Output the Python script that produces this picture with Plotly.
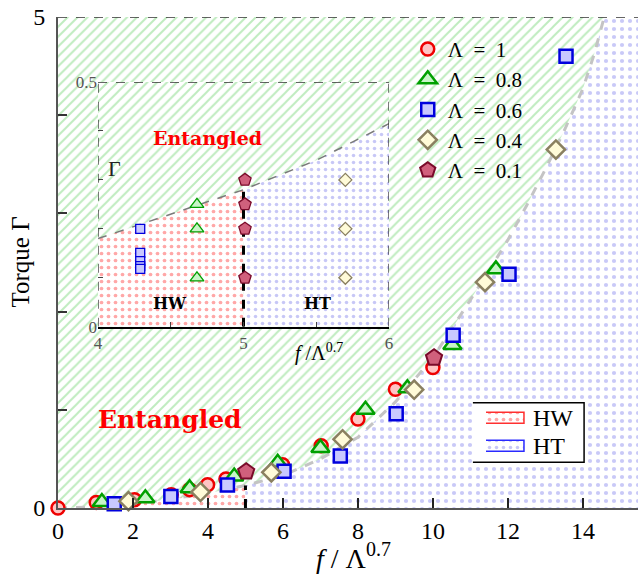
import plotly.graph_objects as go

# ---------------- data ----------------
lam_labels = ["Λ\u2002=\u20021", "Λ\u2002=\u20020.8", "Λ\u2002=\u20020.6",
              "Λ\u2002=\u20020.4", "Λ\u2002=\u20020.1"]

lam1_x = [0, 1.02, 2.04, 3.02, 3.51, 3.99, 4.48, 5.99, 7.02, 8.0, 9.0, 10.0]
lam1_y = [0, 0.057, 0.085, 0.135, 0.187, 0.237, 0.295, 0.44, 0.634, 0.906, 1.21, 1.43]
lam08_x = [1.17, 2.33, 3.51, 4.7, 5.86, 7.0, 8.2, 9.32, 10.52, 11.68]
lam08_y = [0.06, 0.10, 0.20, 0.32, 0.46, 0.61, 1.0, 1.22, 1.66, 2.43]
lam06_x = [1.5, 3.01, 4.52, 6.03, 7.53, 9.02, 10.54, 12.03, 13.55]
lam06_y = [0.044, 0.118, 0.235, 0.373, 0.53, 0.96, 1.76, 2.38, 4.60]
lam04_x = [1.88, 3.8, 5.69, 7.59, 9.5, 11.39, 13.28]
lam04_y = [0.07, 0.163, 0.363, 0.70, 1.205, 2.30, 3.65]
lam01_x = [5.02, 10.03]
lam01_y = [0.37, 1.53]

# phase boundary (main)
bnd_x = [0, 1, 2, 3, 4, 5, 6, 7, 8, 9, 10, 10.5, 11, 11.5, 12, 12.5, 13, 13.5, 14, 14.3, 14.57]
bnd_y = [0, 0.01, 0.04, 0.09, 0.15, 0.23, 0.33, 0.50, 0.72, 1.08, 1.53, 1.82, 2.12, 2.42,
         2.73, 3.08, 3.45, 3.84, 4.27, 4.62, 5.0]
hw_ht_split = 5

# inset data
ins_lam08_x = [4.68, 4.68, 4.68]
ins_lam08_y = [0.25, 0.20, 0.10]
ins_lam06_x = [4.29, 4.29, 4.29, 4.29, 4.29]
ins_lam06_y = [0.20, 0.151, 0.134, 0.124, 0.118]
ins_lam04_x = [5.70, 5.70, 5.70]
ins_lam04_y = [0.30, 0.20, 0.10]
ins_lam01_x = [5.01, 5.01, 5.01, 5.01]
ins_lam01_y = [0.30, 0.25, 0.20, 0.10]
ins_bnd_x = [4, 4.5, 5, 5.5, 6]
ins_bnd_y = [0.18, 0.23, 0.28, 0.34, 0.415]

region_labels = ["HW", "HT"]

main_x_tickvals = [0, 2, 4, 6, 8, 10, 12, 14]
main_y_tickvals = [0, 1, 2, 3, 4, 5]
main_y_ticktext = ["0", "", "", "", "", "5"]
ins_x_tickvals = [4, 4.5, 5, 5.5, 6]
ins_x_ticktext = ["4", "", "5", "", "6"]
ins_y_tickvals = [0, 0.1, 0.2, 0.3, 0.4, 0.5]
ins_y_ticktext = ["0", "", "", "", "", "0.5"]

# ---------------- styles ----------------
XMAX = 15.47
YMAX = 5
SERIF = "Liberation Serif"
green_pat = dict(shape="/", fgcolor="#7fd87f", bgcolor="white", size=7, solidity=0.28)
red_pat = dict(shape=".", fgcolor="#ff5050", bgcolor="white", size=7, solidity=0.22)
blue_pat = dict(shape=".", fgcolor="#9090ee", bgcolor="white", size=7, solidity=0.2)
blue_pat_main = dict(shape=".", fgcolor="#9494f0", bgcolor="white", size=8, solidity=0.22)

styles = {
    "c": dict(symbol="circle", color="#ffc4c4", line=dict(color="#ee0000", width=2.5)),
    "t": dict(symbol="triangle-up", color="#c8f5c8", line=dict(color="#00a000", width=2.5)),
    "s": dict(symbol="square", color="#c8c8ff", line=dict(color="#0000dd", width=2.5)),
    "d": dict(symbol="diamond", color="#fffbd8", line=dict(color="#8a8060", width=2.5)),
    "p": dict(symbol="pentagon", color="#d0607c", line=dict(color="#7a0a2a", width=2)),
}

fig = go.Figure()


def region(x, y, pat, xa="x", ya="y", line=None):
    fig.add_trace(go.Scatter(x=x, y=y, fill="toself", fillcolor="white", fillpattern=pat,
                             mode="lines" if line else "none", line=line or {},
                             showlegend=False, hoverinfo="skip", xaxis=xa, yaxis=ya))


# ---------------- main regions ----------------
region([0, XMAX, XMAX, 0], [0, 0, YMAX, YMAX], green_pat)
hw_x = [bx for bx in bnd_x if bx <= hw_ht_split]
hw_y = [by for bx, by in zip(bnd_x, bnd_y) if bx <= hw_ht_split]
region(hw_x + [hw_ht_split], hw_y + [0], red_pat)
ht_x = [bx for bx in bnd_x if bx >= hw_ht_split]
ht_y = [by for bx, by in zip(bnd_x, bnd_y) if bx >= hw_ht_split]
region(ht_x + [XMAX, XMAX, hw_ht_split], ht_y + [YMAX, 0, 0], blue_pat_main)

fig.add_trace(go.Scatter(x=bnd_x, y=bnd_y, mode="lines", showlegend=False, hoverinfo="skip",
                         line=dict(color="#c4c4c4", width=3, dash="dash")))
split_y = bnd_y[bnd_x.index(hw_ht_split)]
fig.add_trace(go.Scatter(x=[hw_ht_split, hw_ht_split], y=[0, split_y], mode="lines",
                         showlegend=False, hoverinfo="skip",
                         line=dict(color="black", width=3, dash="dash")))

# ---------------- main markers ----------------
main_series = [(lam1_x, lam1_y, "c", 13), (lam08_x, lam08_y, "t", 16),
               (lam06_x, lam06_y, "s", 13), (lam04_x, lam04_y, "d", 14),
               (lam01_x, lam01_y, "p", 17)]
for (sx, sy, key, sz), lab in zip(main_series, lam_labels):
    st = styles[key]
    fig.add_trace(go.Scatter(x=sx, y=sy, mode="markers", name=lab, cliponaxis=False,
                             marker=dict(symbol=st["symbol"], size=sz, color=st["color"],
                                         line=st["line"])))

# ---------------- inset ----------------
region([4, 6, 6, 4], [0, 0, 0.5, 0.5], green_pat, "x2", "y2")
ihw_x = [bx for bx in ins_bnd_x if bx <= hw_ht_split]
ihw_y = [by for bx, by in zip(ins_bnd_x, ins_bnd_y) if bx <= hw_ht_split]
region([4] + ihw_x + [hw_ht_split], [0] + ihw_y + [0], red_pat, "x2", "y2")
iht_x = [bx for bx in ins_bnd_x if bx >= hw_ht_split]
iht_y = [by for bx, by in zip(ins_bnd_x, ins_bnd_y) if bx >= hw_ht_split]
region(iht_x + [6, hw_ht_split], iht_y + [0, 0], blue_pat, "x2", "y2")
fig.add_trace(go.Scatter(x=ins_bnd_x, y=ins_bnd_y, mode="lines", showlegend=False,
                         hoverinfo="skip", xaxis="x2", yaxis="y2",
                         line=dict(color="#7a7a7a", width=1.5, dash="dash")))
ins_split_y = ins_bnd_y[ins_bnd_x.index(hw_ht_split)]
fig.add_trace(go.Scatter(x=[hw_ht_split, hw_ht_split], y=[0, ins_split_y], mode="lines",
                         showlegend=False, hoverinfo="skip", xaxis="x2", yaxis="y2",
                         line=dict(color="black", width=3, dash="dash")))
ins_series = [(ins_lam06_x, ins_lam06_y, "s", 9), (ins_lam08_x, ins_lam08_y, "t", 12),
              (ins_lam01_x, ins_lam01_y, "p", 13), (ins_lam04_x, ins_lam04_y, "d", 10)]
for sx, sy, key, sz in ins_series:
    st = styles[key]
    fig.add_trace(go.Scatter(x=sx, y=sy, mode="markers", showlegend=False, xaxis="x2",
                             yaxis="y2", cliponaxis=False,
                             marker=dict(symbol=st["symbol"], size=sz, color=st["color"],
                                         line=dict(color=st["line"]["color"], width=1.3))))

# ---------------- region legend box (own little axes) ----------------
region([0.008, 0.992, 0.992, 0.008], [0.012, 0.012, 0.988, 0.988],
       dict(shape="", bgcolor="white", fgcolor="white"), "x3", "y3",
       line=dict(color="black", width=1.5))
key_rows = [0.743, 0.284]
key_pats = [(red_pat, "#ff3030"), (blue_pat, "#2a2aff")]
for row, (pat, lc) in zip(key_rows, key_pats):
    region([0.124, 0.46, 0.46, 0.124], [row - 0.09, row - 0.09, row + 0.09, row + 0.09],
           pat, "x3", "y3", line=dict(color=lc, width=1.5))

# ---------------- layout ----------------
hidden_axis = dict(range=[0, 1], showgrid=False, zeroline=False, showline=False,
                   showticklabels=False, ticks="", fixedrange=True)
fig.update_layout(
    width=638, height=576,
    margin=dict(l=58, r=0, t=17, b=68),
    paper_bgcolor="white", plot_bgcolor="white",
    font=dict(family=SERIF, color="black"),
    showlegend=True,
    xaxis=dict(domain=[0, 1], range=[0, XMAX], anchor="y", showgrid=False, zeroline=False,
               showline=True, linecolor="#555", linewidth=2, ticks="inside", ticklen=10,
               tickwidth=2, tickcolor="#222", tickvals=main_x_tickvals, automargin=False,
               tickfont=dict(family=SERIF, size=24, color="black")),
    yaxis=dict(domain=[0, 1], range=[0, YMAX], anchor="x", showgrid=False, zeroline=False,
               showline=True, linecolor="#555", linewidth=2, ticks="inside", ticklen=9,
               tickwidth=1.5, tickcolor="#333", tickvals=main_y_tickvals, automargin=False,
               ticktext=main_y_ticktext, ticklabelstandoff=6,
               tickfont=dict(family=SERIF, size=24, color="black")),
    xaxis2=dict(domain=[0.069, 0.5707], range=[4, 6], anchor="y2", showgrid=False,
                zeroline=False, showline=True, linecolor="black", linewidth=1.5,
                ticks="inside", ticklen=5, tickwidth=1, tickcolor="#444", automargin=False,
                tickvals=ins_x_tickvals, ticktext=ins_x_ticktext,
                tickfont=dict(family=SERIF, size=17, color="#555")),
    yaxis2=dict(domain=[0.3692, 0.8676], range=[0, 0.5], anchor="x2", showgrid=False,
                zeroline=False, showline=False, ticks="inside", ticklen=5, tickwidth=1,
                tickcolor="#444", tickvals=ins_y_tickvals, ticktext=ins_y_ticktext,
                automargin=False, tickfont=dict(family=SERIF, size=17, color="#555")),
    xaxis3=dict(domain=[0.7138, 0.9086], anchor="y3", **hidden_axis),
    yaxis3=dict(domain=[0.0916, 0.2159], anchor="x3", **hidden_axis),
    legend=dict(x=0.603, y=0.976, xanchor="left", yanchor="top", bgcolor="rgba(0,0,0,0)",
                borderwidth=0, font=dict(family=SERIF, size=21, color="black"),
                tracegroupgap=0, itemsizing="trace"),
    shapes=[
        dict(type="line", xref="x", yref="y", x0=0, x1=XMAX, y0=YMAX, y1=YMAX,
             line=dict(color="#333", width=1.5, dash="dash")),
        dict(type="line", xref="x2", yref="y2", x0=4, x1=6, y0=0.5, y1=0.5,
             line=dict(color="#333", width=1.3, dash="dash")),
        dict(type="line", xref="x2", yref="y2", x0=6, x1=6, y0=0, y1=0.5,
             line=dict(color="#333", width=1.3, dash="dash")),
        dict(type="line", xref="x2", yref="y2", x0=4, x1=4, y0=0, y1=0.5,
             line=dict(color="#333", width=1.3, dash="dash")),
    ],
    annotations=[
        dict(text="Torque Γ", xref="paper", yref="paper", x=-0.0655, y=0.5, textangle=-90,
             xanchor="center", yanchor="middle", showarrow=False,
             font=dict(family=SERIF, size=25, color="black")),
        dict(text="<i>f</i> / Λ<sup><span style='font-size:20px'>0.7</span></sup>",
             xref="paper", yref="paper", x=0.51, y=-0.097,
             xanchor="center", yanchor="middle", showarrow=False,
             font=dict(family=SERIF, size=28, color="black")),
        dict(text="<b>Entangled</b>", xref="x", yref="y", x=3.0, y=0.9, showarrow=False,
             xanchor="center", yanchor="middle",
             font=dict(family="DejaVu Serif", size=25, color="#ff0000")),
        dict(text="<b>Entangled</b>", xref="x2", yref="y2", x=4.753, y=0.386, showarrow=False,
             xanchor="center", yanchor="middle",
             font=dict(family="DejaVu Serif", size=19, color="#ff0000")),
        dict(text="<b>HW</b>", xref="x2", yref="y2", x=4.495, y=0.048, showarrow=False,
             xanchor="center", yanchor="middle",
             font=dict(family="DejaVu Serif", size=16, color="black")),
        dict(text="<b>HT</b>", xref="x2", yref="y2", x=5.51, y=0.048, showarrow=False,
             xanchor="center", yanchor="middle",
             font=dict(family="DejaVu Serif", size=16, color="black")),
        dict(text="Γ", xref="x2", yref="y2", x=4.11, y=0.324, showarrow=False,
             xanchor="center", yanchor="middle",
             font=dict(family=SERIF, size=22, color="#222")),
        dict(text="<i>f</i> /Λ<sup>0.7</sup>", xref="paper", yref="paper", x=0.4495, y=0.317,
             xanchor="center", yanchor="middle", showarrow=False,
             font=dict(family=SERIF, size=20, color="black")),
        dict(text=region_labels[0], xref="x3", yref="y3", x=0.522, y=key_rows[0],
             xanchor="left", yanchor="middle", showarrow=False,
             font=dict(family=SERIF, size=24, color="black")),
        dict(text=region_labels[1], xref="x3", yref="y3", x=0.522, y=key_rows[1],
             xanchor="left", yanchor="middle", showarrow=False,
             font=dict(family=SERIF, size=24, color="black")),
    ],
)

fig.write_html("out.html", config={"displayModeBar": False},
               post_script="document.body.style.margin='0';")
